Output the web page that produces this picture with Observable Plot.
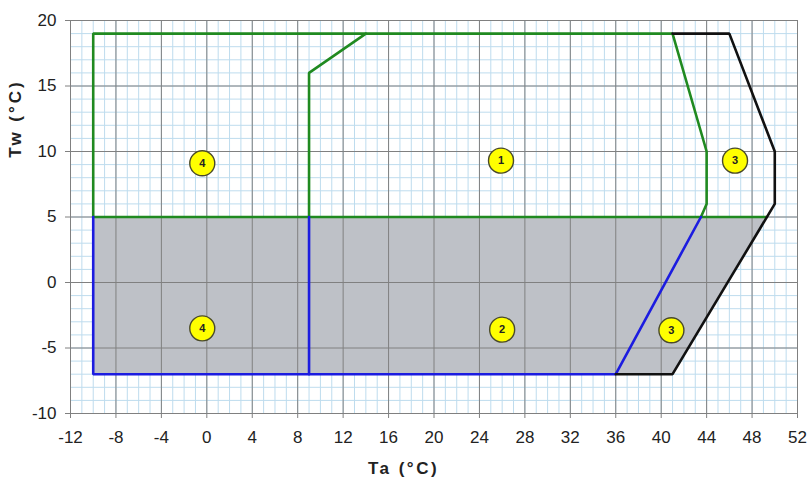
<!DOCTYPE html>
<html>
<head>
<meta charset="utf-8">
<script src="https://cdn.jsdelivr.net/npm/d3@7"></script>
<script src="https://cdn.jsdelivr.net/npm/@observablehq/plot@0.6"></script>
<style>
  html, body { margin: 0; padding: 0; background: #fff; }
  svg { display: block; }
</style>
</head>
<body>
<div id="chart"></div>
<script>
// Tick labels
const xTicks = [-12, -8, -4, 0, 4, 8, 12, 16, 20, 24, 28, 32, 36, 40, 44, 48, 52];
const yTicks = [-10, -5, 0, 5, 10, 15, 20];
const xMinor = d3.range(-12, 53, 1);
const yMinor = d3.range(-10, 21, 1);

// Shaded (grey) zone: y from -7 to 5, x from -10 to black boundary
const shadeZone = [
  {y: -7, x1: -10, x2: 41},
  {y: 5, x1: -10, x2: 49.3}
];

// Green boundaries
const greenLines = [
  {id: "g1", pts: [[-10, 5], [-10, 19], [41, 19], [44, 10], [44, 6], [43.5, 5]]},
  {id: "g2", pts: [[-10, 5], [49.3, 5]]},
  {id: "g3", pts: [[9, 5], [9, 16], [14, 19]]}
];
// Blue boundaries
const blueLines = [
  {id: "b1", pts: [[-10, 5], [-10, -7], [36, -7], [43.5, 5]]},
  {id: "b2", pts: [[9, 5], [9, -7]]}
];
// Black boundary
const blackLines = [
  {id: "k1", pts: [[41, 19], [46, 19], [50, 10], [50, 6], [41, -7], [36, -7]]}
];

// Zone markers
const zoneLabels = ["4", "1", "3", "4", "2", "3"];
const zoneX = [-0.4, 25.9, 46.5, -0.4, 26, 40.9];
const zoneY = [9.1, 9.3, 9.3, -3.5, -3.6, -3.65];

const flatten = (groups) => groups.flatMap(g => g.pts.map(([x, y]) => ({id: g.id, x, y})));
const zones = zoneLabels.map((t, i) => ({t, x: zoneX[i], y: zoneY[i]}));

const chart = Plot.plot({
  width: 809,
  height: 477,
  marginLeft: 70,
  marginRight: 12,
  marginTop: 20,
  marginBottom: 64,
  style: {fontFamily: "Liberation Sans, Arial, sans-serif", background: "#fff"},
  x: {domain: [-12, 52], axis: null},
  y: {domain: [-10, 20], axis: null},
  marks: [
    Plot.ruleX(xMinor, {stroke: "#bedcee", strokeWidth: 1}),
    Plot.ruleY(yMinor, {stroke: "#bedcee", strokeWidth: 1}),
    Plot.areaX(shadeZone, {y: "y", x1: "x1", x2: "x2", fill: "#bec1c7"}),
    Plot.ruleX(xTicks, {stroke: "#808080", strokeWidth: 1}),
    Plot.ruleY(yTicks, {stroke: "#808080", strokeWidth: 1}),
    Plot.line(flatten(greenLines), {x: "x", y: "y", z: "id", stroke: "#208a20", strokeWidth: 2.6, strokeLinejoin: "miter"}),
    Plot.line(flatten(blueLines), {x: "x", y: "y", z: "id", stroke: "#1c1ce0", strokeWidth: 2.6, strokeLinejoin: "miter"}),
    Plot.line(flatten(blackLines), {x: "x", y: "y", z: "id", stroke: "#111", strokeWidth: 2.6, strokeLinejoin: "miter"}),
    Plot.dot(zones, {x: "x", y: "y", r: 12.5, fill: "#ffff00", stroke: "#4a4a2a", strokeWidth: 1.4}),
    Plot.text(zones, {x: "x", y: "y", text: "t", fontSize: 11, fontWeight: "bold", fill: "#222"}),
    Plot.axisX(xTicks, {label: null, tickSize: 5, tickPadding: 12, fontSize: 17, stroke: "#808080", color: "#222", tickFormat: d => String(d)}),
    Plot.axisY(yTicks, {label: null, tickSize: 5, tickPadding: 9, fontSize: 17, stroke: "#808080", color: "#222", tickFormat: d => String(d)}),
    Plot.ruleX([-12], {stroke: "#808080"}),
    Plot.ruleY([-10], {stroke: "#808080"}),
    Plot.text(["Ta (°C)"], {className: "xlab", frameAnchor: "bottom-left", dx: 333, dy: 55, fontSize: 17, fontWeight: "bold", fill: "#222", lineAnchor: "middle", textAnchor: "middle"}),
    Plot.text(["Tw (°C)"], {className: "ylab", frameAnchor: "top-left", dx: -55, dy: 98, rotate: -90, fontSize: 17, fontWeight: "bold", fill: "#222", lineAnchor: "middle", textAnchor: "middle"})
  ]
});
d3.select(chart).selectAll(".xlab text").attr("letter-spacing", 2.5);
d3.select(chart).selectAll(".ylab text").attr("letter-spacing", 3);
document.getElementById("chart").appendChild(chart);
</script>
</body>
</html>
